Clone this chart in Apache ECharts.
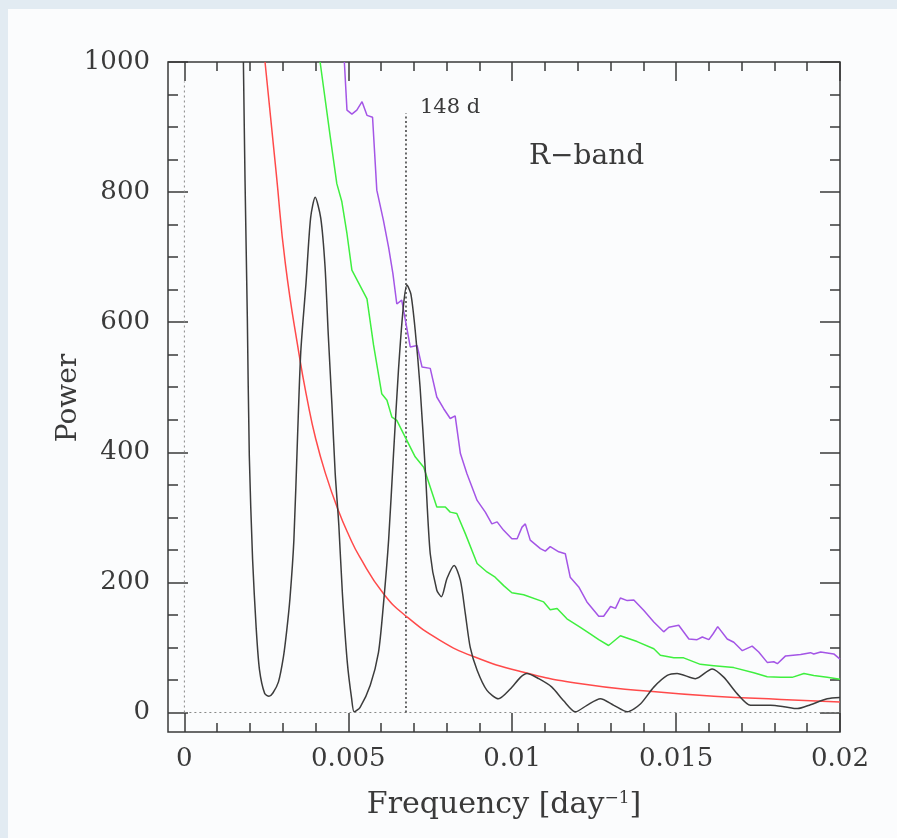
<!DOCTYPE html>
<html>
<head>
<meta charset="utf-8">
<title>R-band power spectrum</title>
<script src="https://cdn.jsdelivr.net/npm/echarts@6/dist/echarts.min.js"></script>
<style>
    html, body { margin: 0; padding: 0; background: #fbfcfd; }
    #chart { width: 897px; height: 838px; }
</style>
</head>
<body>
<div id="chart"></div>
<script>
// frequency [1/day], power
var powerSpec = [
    [0.00180, 1000], [0.00185, 818], [0.00192, 607], [0.00198, 395], [0.00208, 236],
    [0.00219, 130], [0.00229, 66], [0.00245, 29], [0.00258, 25], [0.00270, 30],
    [0.00287, 47], [0.00302, 85], [0.00312, 125], [0.00322, 175], [0.00334, 265],
    [0.00345, 421], [0.00355, 554], [0.00371, 660], [0.00385, 760], [0.00399, 792],
    [0.00416, 760], [0.00429, 686], [0.00439, 580], [0.00450, 474], [0.00460, 368],
    [0.00471, 289], [0.00482, 183], [0.00497, 77], [0.00510, 22], [0.00518, 1],
    [0.00536, 8], [0.00567, 42], [0.00592, 92], [0.00607, 165], [0.00623, 265],
    [0.00638, 398], [0.00653, 526], [0.00668, 624], [0.00679, 657], [0.00691, 643],
    [0.00704, 588], [0.00719, 500], [0.00735, 372], [0.00750, 244], [0.00770, 188],
    [0.00784, 178], [0.00801, 206], [0.00823, 226], [0.00842, 203], [0.00857, 152],
    [0.00872, 100], [0.00893, 65], [0.00923, 34], [0.00958, 21], [0.00994, 36],
    [0.01025, 54], [0.01045, 60], [0.01081, 52], [0.01121, 39], [0.01157, 18],
    [0.01193, 1], [0.01228, 11], [0.01269, 21], [0.01310, 11], [0.01351, 1],
    [0.01391, 13], [0.01432, 39], [0.01473, 57], [0.01503, 60], [0.01559, 52],
    [0.01610, 67], [0.01646, 54], [0.01686, 29], [0.01727, 11], [0.01788, 11],
    [0.01829, 9], [0.01870, 6], [0.01910, 12], [0.01961, 21], [0.02000, 23]
];

// red noise model
var redNoise = [
    [0.00246, 1000], [0.00280, 830], [0.00308, 690], [0.00350, 550], [0.00376, 478],
    [0.00400, 422], [0.00430, 368], [0.00470, 310], [0.00503, 271], [0.00534, 240],
    [0.00607, 183], [0.00679, 147], [0.00780, 111], [0.00882, 86], [0.01025, 63],
    [0.01210, 44], [0.01410, 33], [0.01615, 25], [0.01820, 20], [0.02000, 16]
];

// significance levels
var levelGreen = [
    [0.00414, 1000], [0.00445, 885], [0.00465, 813], [0.00480, 786], [0.00496, 736],
    [0.00511, 680], [0.00557, 636], [0.00577, 565], [0.00602, 490], [0.00618, 480],
    [0.00633, 454], [0.00648, 449], [0.00679, 418], [0.00704, 393], [0.00730, 377],
    [0.00770, 316], [0.00796, 316], [0.00811, 308], [0.00831, 306], [0.00857, 275],
    [0.00893, 229], [0.00923, 216], [0.00948, 208], [0.00974, 195], [0.00999, 184],
    [0.01035, 181], [0.01096, 170], [0.01116, 158], [0.01137, 160], [0.01167, 144],
    [0.01208, 131], [0.01238, 121], [0.01264, 112], [0.01294, 103], [0.01330, 118],
    [0.01381, 109], [0.01432, 98], [0.01452, 88], [0.01493, 84], [0.01523, 84],
    [0.01574, 74], [0.01615, 72], [0.01676, 69], [0.01737, 61], [0.01778, 55],
    [0.01819, 54], [0.01854, 54], [0.01890, 60], [0.01920, 57], [0.01961, 54],
    [0.02000, 51]
];

var levelPurple = [
    [0.00488, 1000], [0.00496, 926], [0.00511, 920], [0.00526, 926], [0.00542, 939],
    [0.00557, 918], [0.00574, 915], [0.00587, 803], [0.00607, 757], [0.00623, 715],
    [0.00636, 675], [0.00648, 628], [0.00663, 634], [0.00689, 562], [0.00710, 564],
    [0.00725, 531], [0.00750, 529], [0.00770, 485], [0.00791, 467], [0.00811, 452],
    [0.00826, 456], [0.00842, 398], [0.00862, 367], [0.00893, 326], [0.00918, 308],
    [0.00938, 290], [0.00954, 293], [0.00974, 280], [0.00999, 267], [0.01015, 267],
    [0.01030, 285], [0.01040, 290], [0.01055, 265], [0.01086, 252], [0.01101, 248],
    [0.01116, 255], [0.01142, 247], [0.01162, 244], [0.01177, 208], [0.01203, 193],
    [0.01228, 170], [0.01264, 148], [0.01279, 148], [0.01300, 163], [0.01315, 160],
    [0.01330, 176], [0.01351, 172], [0.01371, 173], [0.01401, 157], [0.01432, 139],
    [0.01462, 124], [0.01478, 131], [0.01508, 134], [0.01539, 113], [0.01564, 112],
    [0.01580, 116], [0.01600, 112], [0.01613, 121], [0.01627, 132], [0.01656, 113],
    [0.01676, 108], [0.01702, 95], [0.01732, 102], [0.01752, 93], [0.01778, 77],
    [0.01798, 78], [0.01809, 75], [0.01834, 87], [0.01880, 89], [0.01910, 92],
    [0.01920, 90], [0.01941, 93], [0.01981, 90], [0.02000, 82]
];

// dotted guide lines
var period148 = [[0.00676, 0], [0.00676, 921]];
var zeroFreq = [[0, 0], [0, 970]];
var zeroPower = [[0, 0], [0.02, 0]];

var xTicks = [0, 0.005, 0.01, 0.015, 0.02];
var yTicks = [0, 200, 400, 600, 800, 1000];

// plot box
var L = 168, T = 62, W = 672, H = 670;
var xMin = -0.0005, xMax = 0.02, yMin = -30, yMax = 1000;
// the tick axes start at 0, not at the box edge
var xOff = (xTicks[0] - xMin) / (xMax - xMin) * W;
var yOff = (yTicks[0] - yMin) / (yMax - yMin) * H;

var ink = '#3a3a3a';
var textFont = 'DejaVu Serif';

function tickAxis(grid, pos, ticks, major, minor, split, labels, margin){
    return {
        gridIndex: grid,
        type: 'value',
        position: pos,
        min: ticks[0],
        max: ticks[ticks.length - 1],
        interval: ticks[1] - ticks[0],
        axisLine: {show: false},
        splitLine: {show: false},
        axisTick: {show: true, inside: true, length: major, lineStyle: {color: ink, width: 1.5}},
        minorTick: {show: true, splitNumber: split, length: minor, lineStyle: {color: ink, width: 1.5}},
        axisLabel: {
            show: labels, margin: margin, color: ink, fontFamily: textFont, fontSize: 26,
            formatter: function (v) { return String(v); }
        }
    };
}

function hidden(grid, lo, hi){
    return {gridIndex: grid, type: 'value', min: lo, max: hi, show: false, splitLine: {show: false}};
}

function curve(data, color, width, smooth, dash){
    return {
        type: 'line',
        data: data,
        xAxisIndex: 0,
        yAxisIndex: 0,
        showSymbol: false,
        smooth: smooth,
        silent: true,
        lineStyle: {color: color, width: width, type: dash || 'solid'}
    };
}

var myChart = echarts.init(document.getElementById('chart'));

var option = {
    animation: false,
    backgroundColor: '#fbfcfd',
    grid: [
        {left: L, top: T, width: W, height: H, show: true, borderColor: ink, borderWidth: 1.5,
         backgroundColor: 'transparent', outerBoundsMode: 'none'},
        {left: L + xOff, top: T, width: W - xOff, height: H, outerBoundsMode: 'none'},
        {left: L, top: T, width: W, height: H - yOff, outerBoundsMode: 'none'}
    ],
    xAxis: [
        hidden(0, xMin, xMax),
        tickAxis(1, 'bottom', xTicks, 19, 9, 5, true, 14),
        tickAxis(1, 'top', xTicks, 19, 9, 5, false, 0),
        hidden(2, 0, 1)
    ],
    yAxis: [
        hidden(0, yMin, yMax),
        hidden(1, 0, 1),
        tickAxis(2, 'left', yTicks, 20, 10, 4, true, 18),
        tickAxis(2, 'right', yTicks, 20, 10, 4, false, 0)
    ],
    series: [
        curve(zeroFreq, '#888', 1, false, [2, 3]),
        curve(zeroPower, '#888', 1, false, [2, 3]),
        curve(period148, ink, 1.5, false, [2, 2.5]),
        curve(redNoise, '#ff4a4a', 1.5, true),
        curve(levelGreen, '#3fef3f', 1.5, false),
        curve(levelPurple, '#a455e6', 1.5, false),
        curve(powerSpec, '#3c3c3c', 1.5, 0.25)
    ],
    graphic: [
        // grid paper edge
        {type: 'rect', shape: {x: 0, y: 0, width: 897, height: 9}, style: {fill: '#e2ebf2'}, silent: true},
        {type: 'rect', shape: {x: 0, y: 0, width: 8, height: 838}, style: {fill: '#e2ebf2'}, silent: true},
        {type: 'text', x: 420, y: 108, silent: true,
         style: {text: '148 d', fill: ink, fontFamily: textFont, fontSize: 21, verticalAlign: 'middle'}},
        {type: 'text', x: 529, y: 157, silent: true,
         style: {text: 'R\u2212band', fill: ink, fontFamily: textFont, fontSize: 28, verticalAlign: 'middle'}},
        {type: 'text', x: 69, y: 398, rotation: Math.PI / 2, silent: true,
         style: {text: 'Power', fill: ink, fontFamily: textFont, fontSize: 28, align: 'center', verticalAlign: 'middle'}},
        {type: 'text', x: 504, y: 805, silent: true,
         style: {
             text: 'Frequency [day{s|\u22121}]',
             fill: ink, fontFamily: textFont, fontSize: 30, align: 'center', verticalAlign: 'middle',
             rich: {s: {fontFamily: textFont, fontSize: 17, fill: ink, verticalAlign: 'top'}}
         }}
    ]
};

myChart.setOption(option);
</script>
</body>
</html>
